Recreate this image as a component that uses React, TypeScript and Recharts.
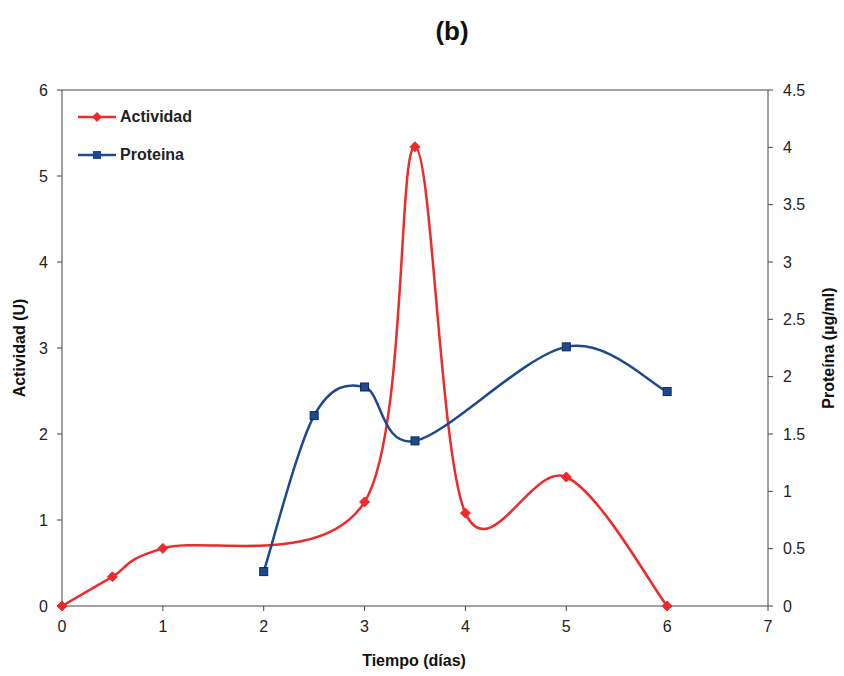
import React from "react";
import { LineChart, Line, XAxis, YAxis, Legend, ReferenceLine } from "recharts";

const tiempoActividad = [0, 0.5, 1, 3, 3.5, 4, 5, 6];
const actividad = [0, 0.34, 0.67, 1.21, 5.34, 1.08, 1.5, 0];
const tiempoProteina = [2, 2.5, 3, 3.5, 5, 6];
const proteina = [0.3, 1.66, 1.91, 1.44, 2.26, 1.87];

const xTicks = [0, 1, 2, 3, 4, 5, 6, 7];
const leftTicks = [0, 1, 2, 3, 4, 5, 6];
const rightTicks = [0, 0.5, 1, 1.5, 2, 2.5, 3, 3.5, 4, 4.5];

const RED = "#ee2a2a";
const BLUE = "#1d4a8e";
const FONT = "'Liberation Sans', Arial, sans-serif";

const actividadData = tiempoActividad.map((t, i) => ({ t, v: actividad[i] }));
const proteinaData = tiempoProteina.map((t, i) => ({ t, v: proteina[i] }));

// Excel-style smoothing (Catmull-Rom through the points)
const smoothCurve = (context: any) => {
  let pts: number[][] = [];
  return {
    areaStart() {},
    areaEnd() {},
    lineStart() {
      pts = [];
    },
    point(x: number, y: number) {
      pts.push([+x, +y]);
    },
    lineEnd() {
      const n = pts.length;
      if (!n) return;
      context.moveTo(pts[0][0], pts[0][1]);
      for (let i = 0; i < n - 1; i++) {
        const p0 = pts[Math.max(i - 1, 0)];
        const p1 = pts[i];
        const p2 = pts[i + 1];
        const p3 = pts[Math.min(i + 2, n - 1)];
        context.bezierCurveTo(
          p1[0] + (p2[0] - p0[0]) / 6,
          p1[1] + (p2[1] - p0[1]) / 6,
          p2[0] - (p3[0] - p1[0]) / 6,
          p2[1] - (p3[1] - p1[1]) / 6,
          p2[0],
          p2[1]
        );
      }
    },
  };
};

const Diamond = (props: any) => {
  const { cx, cy } = props;
  if (cx == null || cy == null) return null;
  const r = 5;
  return (
    <path
      d={`M${cx},${cy - r}L${cx + r},${cy}L${cx},${cy + r}L${cx - r},${cy}Z`}
      fill={RED}
      stroke={RED}
    />
  );
};

const Square = (props: any) => {
  const { cx, cy } = props;
  if (cx == null || cy == null) return null;
  return <rect x={cx - 4} y={cy - 4} width={8} height={8} fill={BLUE} stroke="#0e2850" strokeWidth={1} />;
};

const renderLegend = () => (
  <div style={{ fontFamily: FONT, fontSize: 16, fontWeight: 700, color: "#222" }}>
    {[
      { name: "Actividad", color: RED, marker: "diamond" },
      { name: "Proteina", color: BLUE, marker: "square" },
    ].map((item) => (
      <div key={item.name} style={{ display: "flex", alignItems: "center", height: 38 }}>
        <svg width={40} height={12} style={{ marginRight: 2 }}>
          <line x1={0} y1={6} x2={38} y2={6} stroke={item.color} strokeWidth={2.5} />
          {item.marker === "diamond" ? (
            <path d="M19,1L24,6L19,11L14,6Z" fill={item.color} />
          ) : (
            <rect x={15} y={2} width={8} height={8} fill={item.color} />
          )}
        </svg>
        <span>{item.name}</span>
      </div>
    ))}
  </div>
);

const axisLabel = (text: string, x: number) => (props: any) => {
  const vb = props.viewBox || {};
  const y = (vb.y || 0) + (vb.height || 0) / 2;
  return (
    <text
      x={x}
      y={y}
      transform={`rotate(-90, ${x}, ${y})`}
      textAnchor="middle"
      dominantBaseline="central"
      fontFamily={FONT}
      fontSize={16}
      fontWeight={700}
      fill="#111"
    >
      {text}
    </text>
  );
};

const tickStyle = { fontFamily: FONT, fontSize: 16, fill: "#222" };

export default function App() {
  return (
    <div style={{ position: "absolute", left: 0, top: 0, width: 844, height: 676, background: "#fff" }}>
      <div
        style={{
          position: "absolute",
          left: 0,
          width: 904,
          top: 16,
          textAlign: "center",
          fontFamily: FONT,
          fontWeight: 700,
          fontSize: 26,
          color: "#111",
        }}
      >
        (b)
      </div>
      <div
        style={{
          position: "absolute",
          left: 0,
          width: 828,
          top: 652,
          textAlign: "center",
          fontFamily: FONT,
          fontWeight: 700,
          fontSize: 16,
          color: "#111",
        }}
      >
        Tiempo (días)
      </div>
      <LineChart width={844} height={676} margin={{ top: 90, right: 16, bottom: 30, left: 2 }}>
        <XAxis
          dataKey="t"
          type="number"
          domain={[0, 7]}
          ticks={xTicks}
          allowDuplicatedCategory={false}
          stroke="#444"
          tickSize={5}
          tickMargin={10}
          tick={tickStyle}
          height={40}
        />
        <YAxis
          yAxisId="left"
          domain={[0, 6]}
          ticks={leftTicks}
          stroke="#444"
          tickSize={5}
          tickMargin={9}
          tick={tickStyle}
          width={60}
          label={{ content: axisLabel("Actividad (U)", 19) }}
        />
        <YAxis
          yAxisId="right"
          orientation="right"
          domain={[0, 4.5]}
          ticks={rightTicks}
          stroke="#444"
          tickSize={5}
          tickMargin={10}
          tick={tickStyle}
          width={60}
          label={{ content: axisLabel("Proteína (µg/ml)", 828) }}
        />
        <ReferenceLine yAxisId="left" y={6} stroke="#444" />
        <Legend
          layout="vertical"
          align="center"
          verticalAlign="middle"
          content={renderLegend}
          wrapperStyle={{ left: 78, top: 98, width: 160, height: 80 }}
        />
        <Line
          yAxisId="left"
          data={actividadData}
          dataKey="v"
          name="Actividad"
          type={smoothCurve as any}
          stroke={RED}
          strokeWidth={2.5}
          dot={<Diamond />}
          activeDot={false}
          isAnimationActive={false}
        />
        <Line
          yAxisId="right"
          data={proteinaData}
          dataKey="v"
          name="Proteina"
          type={smoothCurve as any}
          stroke={BLUE}
          strokeWidth={2.5}
          dot={<Square />}
          activeDot={false}
          isAnimationActive={false}
        />
      </LineChart>
    </div>
  );
}
